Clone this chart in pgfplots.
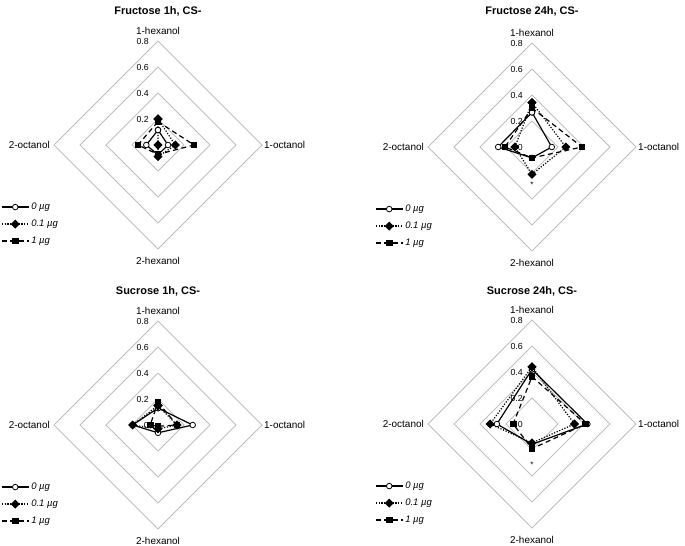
\documentclass[border=0pt]{standalone}
\usepackage{fontspec}
\setmainfont{Liberation Sans}
\usepackage{pgfplots}
\pgfplotsset{compat=1.18}
\definecolor{gridc}{RGB}{191,191,191}
\newcommand\ticksf{\fontsize{8.8}{10}\selectfont}
\newcommand\labf{\fontsize{10}{12}\selectfont}
\pgfplotsset{
 radar/.style={width=208bp,height=208bp,scale only axis,xmin=-0.8,xmax=0.8,ymin=-0.8,ymax=0.8,hide axis,clip=false,anchor=center,
  legend style={at={(-0.255,0.229)},anchor=north west,draw=none,fill=none,inner sep=0pt,
   font=\fontsize{9.5}{11}\selectfont\itshape,row sep=6bp,column sep=1bp,
   nodes={inner sep=1bp,text height=7bp,text depth=2bp}},
  legend cell align=left,
  legend image code/.code={\draw[mark repeat=2,mark phase=2,##1] plot coordinates {(0bp,0bp) (13.5bp,0bp) (27bp,0bp)};}
 },
 grd/.style={gridc, line width=0.8bp, no markers, forget plot, data cs=polar},
 s0/.style={black, line width=1.2bp, solid, mark=*, mark options={fill=white, solid, line width=0.8bp}, mark size=2.8bp, data cs=polar},
 s1/.style={black, line width=1.2bp, dash pattern=on 1.2bp off 1.6bp, mark=square*, mark options={solid, rotate=45}, mark size=2.6bp, data cs=polar},
 s2/.style={black, line width=1.2bp, dash pattern=on 5bp off 3.5bp, mark=square*, mark options={solid}, mark size=2.8bp, data cs=polar},
}
\newcommand\radarbase{%
 \addplot[grd] coordinates {(90,0.2)(0,0.2)(270,0.2)(180,0.2)(90,0.2)};
 \addplot[grd] coordinates {(90,0.4)(0,0.4)(270,0.4)(180,0.4)(90,0.4)};
 \addplot[grd] coordinates {(90,0.6)(0,0.6)(270,0.6)(180,0.6)(90,0.6)};
 \addplot[grd] coordinates {(90,0.8)(0,0.8)(270,0.8)(180,0.8)(90,0.8)};
 \node[anchor=east,font=\ticksf,inner sep=0pt,xshift=-9bp] at (axis cs:0,0.8) {0.8};
 \node[anchor=east,font=\ticksf,inner sep=0pt,xshift=-9bp] at (axis cs:0,0.6) {0.6};
 \node[anchor=east,font=\ticksf,inner sep=0pt,xshift=-9bp] at (axis cs:0,0.4) {0.4};
 \node[anchor=east,font=\ticksf,inner sep=0pt,xshift=-9bp] at (axis cs:0,0.2) {0.2};
 \node[anchor=east,font=\ticksf,inner sep=0pt,xshift=-9bp] at (axis cs:0,0) {0};
 \node[font=\labf,anchor=south,inner sep=0pt,yshift=6.5bp] at (axis cs:0,0.8) {1-hexanol};
 \node[font=\labf,anchor=west,inner sep=0pt,xshift=2bp] at (axis cs:0.8,0) {1-octanol};
 \node[font=\labf,anchor=north,inner sep=0pt,yshift=-8bp] at (axis cs:0,-0.8) {2-hexanol};
 \node[font=\labf,anchor=east,inner sep=0pt,xshift=-4bp] at (axis cs:-0.8,0) {2-octanol};
}
\begin{document}
\begin{tikzpicture}
\useasboundingbox (0,0) rectangle (685bp,-546bp);
\tikzset{ttl/.style={font=\fontsize{11}{13}\selectfont\bfseries}}
\node[ttl] at (158bp,-11bp) {Fructose 1h, CS-};
\node[ttl] at (532bp,-11bp) {Fructose 24h, CS-};
\node[ttl] at (158bp,-291bp) {Sucrose 1h, CS-};
\node[ttl] at (532bp,-291bp) {Sucrose 24h, CS-};

% Fructose 1h
\begin{axis}[radar, at={(158bp,-145bp)}]
\radarbase
\addplot[s0] coordinates {(90,0.115) (0,0.077) (270,0.075) (180,0.09) (90,0.115)};
\addplot[s1] coordinates {(90,0.20) (0,0.133) (270,0.09) (180,0.0) (90,0.20)};
\addplot[s2] coordinates {(90,0.18) (0,0.277) (270,0.072) (180,0.154) (90,0.18)};
\legend{0 µg, 0.1 µg, 1 µg}
\end{axis}

% Fructose 24h
\begin{axis}[radar, at={(532bp,-147bp)}]
\radarbase
\addplot[s0] coordinates {(90,0.266) (0,0.152) (270,0.084) (180,0.26) (90,0.266)};
\addplot[s1] coordinates {(90,0.342) (0,0.26) (270,0.21) (180,0.132) (90,0.342)};
\addplot[s2] coordinates {(90,0.30) (0,0.385) (270,0.084) (180,0.208) (90,0.30)};
\node[font=\fontsize{8}{9}\selectfont] at (axis cs:0,-0.29) {*};
\legend{0 µg, 0.1 µg, 1 µg}
\end{axis}

% Sucrose 1h
\begin{axis}[radar, at={(158bp,-425bp)}]
\radarbase
\addplot[s0] coordinates {(90,0.13) (0,0.267) (270,0.06) (180,0.195) (90,0.13)};
\addplot[s1] coordinates {(90,0.15) (0,0.146) (270,0.03) (180,0.195) (90,0.15)};
\addplot[s2] coordinates {(90,0.174) (0,0.146) (270,0.01) (180,0.06) (90,0.174)};
\legend{0 µg, 0.1 µg, 1 µg}
\end{axis}

% Sucrose 24h
\begin{axis}[radar, at={(532bp,-424bp)}]
\radarbase
\addplot[s0] coordinates {(90,0.42) (0,0.426) (270,0.156) (180,0.27) (90,0.42)};
\addplot[s1] coordinates {(90,0.44) (0,0.327) (270,0.145) (180,0.322) (90,0.44)};
\addplot[s2] coordinates {(90,0.364) (0,0.413) (270,0.19) (180,0.145) (90,0.364)};
\node[font=\fontsize{8}{9}\selectfont] at (axis cs:0,-0.31) {*};
\legend{0 µg, 0.1 µg, 1 µg}
\end{axis}
\end{tikzpicture}
\end{document}
